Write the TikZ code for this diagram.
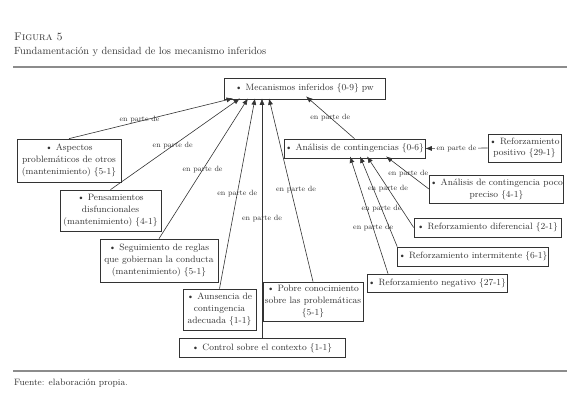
\documentclass[tikz,border=0pt]{standalone}
\usepackage{tikz}
\usetikzlibrary{arrows.meta}
\definecolor{ink}{gray}{0.2}
\definecolor{rulegray}{gray}{0.55}

\begin{document}
\begin{tikzpicture}[x=1pt, y=-1pt,
        cbox/.style={draw=ink, line width=0.7pt, text=ink, align=center, inner sep=1pt,
                     font=\fontsize{9.2}{11.8}\selectfont},
        rel/.style={draw=ink, line width=0.6pt, -{Latex[length=6.5pt, width=5pt]}},
        lbl/.style={text=ink, inner sep=0.5pt, font=\fontsize{7.6}{9}\selectfont}]
                \useasboundingbox (0,0) rectangle (580,403);
                \node[anchor=base west, text=ink, inner sep=0pt, font=\fontsize{11}{13}\selectfont] (fig) at (14,41) {\textsc{Figura 5}};
                \node[anchor=base west, text=ink, inner sep=0pt, font=\fontsize{10.4}{13}\selectfont] (tit) at (14,55) {Fundamentación y densidad de los mecanismo inferidos};
                \draw[rulegray, line width=1.8pt] (13,67) -- (567,67);
                \draw[rulegray, line width=1.8pt] (13,371) -- (567,371);
                \node[anchor=base west, text=ink, inner sep=0pt, font=\fontsize{9.2}{11}\selectfont] (src) at (14,385) {Fuente: elaboración propia.};
                \node[cbox, minimum width=161pt, minimum height=21pt] (meca) at (304.5,88.5) {\textbullet{} Mecanismos inferidos \{0-9\} pw};
                \node[cbox, minimum width=104pt, minimum height=43pt] (aspec) at (69,160.5) {\textbullet{} Aspectos\\ problemáticos de otros\\ (mantenimiento) \{5-1\}};
                \node[cbox, minimum width=101pt, minimum height=41pt] (pensa) at (110.5,210.5) {\textbullet{} Pensamientos\\ disfuncionales\\ (mantenimiento) \{4-1\}};
                \node[cbox, minimum width=118pt, minimum height=43pt] (segui) at (159,260.5) {\textbullet{} Seguimiento de reglas\\ que gobiernan la conducta\\ (mantenimiento) \{5-1\}};
                \node[cbox, minimum width=73pt, minimum height=41pt] (ausen) at (219.5,309.5) {\textbullet{} Aunsencia de\\ contingencia\\ adecuada \{1-1\}};
                \node[cbox, minimum width=166pt, minimum height=19pt] (contr) at (262,348) {\textbullet{} Control sobre el contexto \{1-1\}};
                \node[cbox, minimum width=100pt, minimum height=39pt] (pobre) at (313,301.5) {\textbullet{} Pobre conocimiento\\ sobre las problemáticas\\ \{5-1\}};
                \node[cbox, minimum width=135pt, minimum height=19pt] (anali) at (354.5,148.5) {\textbullet{} Análisis de contingencias \{0-6\}};
                \node[cbox, minimum width=73pt, minimum height=28pt] (rpos) at (524.5,148) {\textbullet{} Reforzamiento\\ positivo \{29-1\}};
                \node[cbox, minimum width=127pt, minimum height=28pt] (apoco) at (496.5,189) {\textbullet{} Análisis de contingencia poco\\ preciso \{4-1\}};
                \node[cbox, minimum width=147pt, minimum height=19pt] (rdif) at (487.5,227.5) {\textbullet{} Reforzamiento diferencial \{2-1\}};
                \node[cbox, minimum width=150pt, minimum height=19pt] (rint) at (473,256.5) {\textbullet{} Reforzamiento intermitente \{6-1\}};
                \node[cbox, minimum width=134pt, minimum height=18pt] (rneg) at (437,283) {\textbullet{} Reforzamiento negativo \{27-1\}};
                \draw[rel] (aspec.north) -- node[lbl, pos=0.43, yshift=2pt] {en parte de} ([xshift=-71.5pt, yshift=1pt]meca.south);
                \draw[rel] (pensa.north) -- node[lbl, pos=0.48] {en parte de} ([xshift=-64.5pt, yshift=1pt]meca.south);
                \draw[rel] (segui.north) -- node[lbl, pos=0.49] {en parte de} ([xshift=-56.5pt, yshift=1pt]meca.south);
                \draw[rel] (ausen.north) -- node[lbl, pos=0.5] {en parte de} ([xshift=-49.5pt, yshift=1pt]meca.south);
                \draw[rel] (contr.north) -- node[lbl, pos=0.5] {en parte de} ([xshift=-42.5pt, yshift=1pt]meca.south);
                \draw[rel] (pobre.north) -- node[lbl, pos=0.5, xshift=5pt] {en parte de} ([xshift=-35.5pt, yshift=1pt]meca.south);
                \draw[rel] (anali.north) -- node[lbl, pos=0.5] {en parte de} ([xshift=1.5pt, yshift=3pt]meca.south);
                \draw[rel] (rpos.west) -- node[lbl, fill=white, inner sep=2pt, pos=0.5] {en parte de} (anali.east);
                \draw[rel] (apoco.west) -- node[lbl, pos=0.48] {en parte de} ([xshift=31.5pt, yshift=2pt]anali.south);
                \draw[rel] (rdif.west) -- node[lbl, pos=0.55] {en parte de} ([xshift=12.5pt, yshift=2pt]anali.south);
                \draw[rel] (rint.north west) -- node[lbl, pos=0.42] {en parte de} ([xshift=5.5pt, yshift=2pt]anali.south);
                \draw[rel] ([xshift=-49pt]rneg.north) -- node[lbl, pos=0.39] {en parte de} ([xshift=-4.5pt, yshift=2pt]anali.south);
            \end{tikzpicture}
\end{document}
